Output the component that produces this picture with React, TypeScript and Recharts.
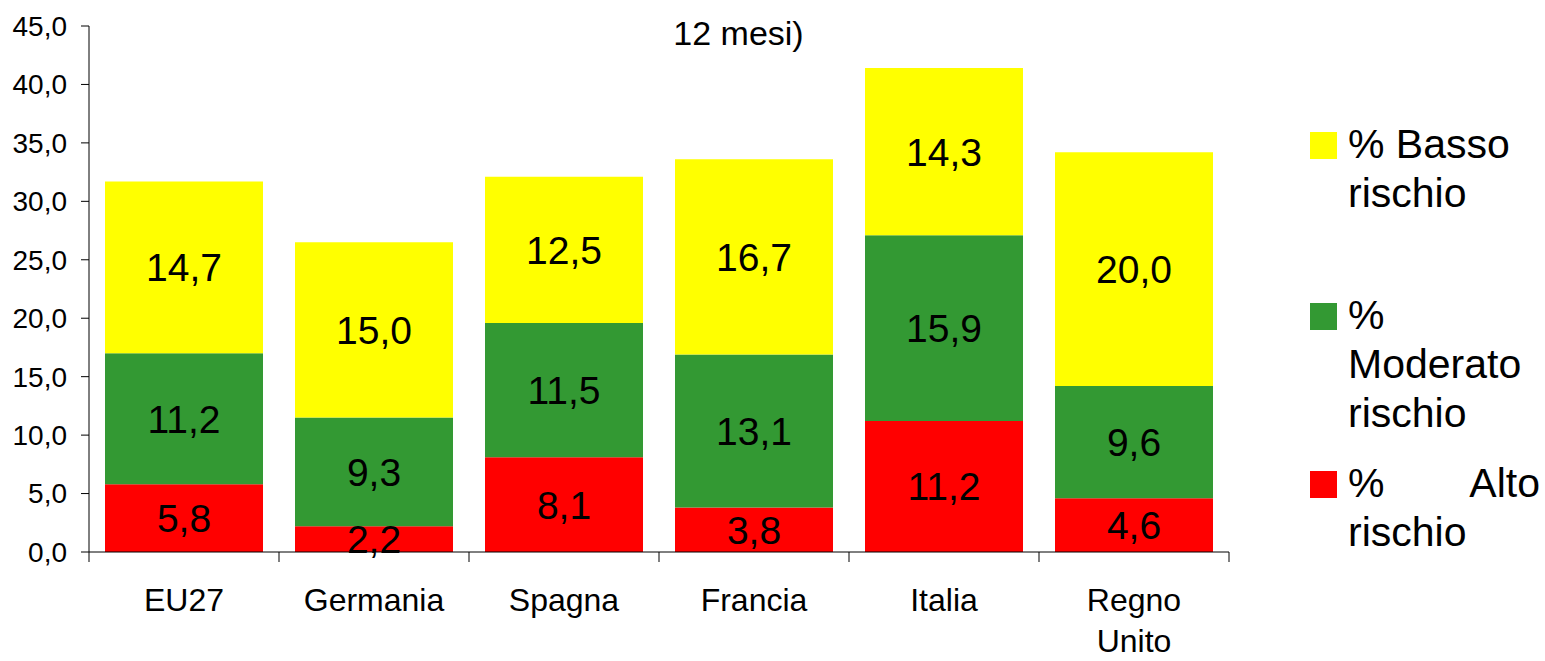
import React from "react";
import { Bar, BarChart, LabelList, Legend, XAxis, YAxis } from "recharts";

const FONT = '"Liberation Sans", Arial, sans-serif';

const paesi = ["EU27", "Germania", "Spagna", "Francia", "Italia", "Regno Unito"];
const alto = [5.8, 2.2, 8.1, 3.8, 11.2, 4.6];
const moderato = [11.2, 9.3, 11.5, 13.1, 15.9, 9.6];
const basso = [14.7, 15.0, 12.5, 16.7, 14.3, 20.0];
const yTicks = [0, 5, 10, 15, 20, 25, 30, 35, 40, 45];

const SERIES = [
  { key: "alto", name: "% Alto rischio", color: "#FF0000" },
  { key: "moderato", name: "% Moderato rischio", color: "#339933" },
  { key: "basso", name: "% Basso rischio", color: "#FFFF00" },
];

const data = paesi.map((p, i) => ({
  paese: p,
  alto: alto[i],
  moderato: moderato[i],
  basso: basso[i],
}));

const fmt = (v: number) => v.toFixed(1).replace(".", ",");

function CategoryTick(props: any) {
  const { x, y, payload, index, visibleTicksCount } = props;
  const half = payload.offset ?? 95;
  const lines = String(payload.value).split(" ");
  return (
    <g>
      <line x1={x - half} x2={x - half} y1={y} y2={y + 10} stroke="#000" />
      {index === visibleTicksCount - 1 && (
        <line x1={x + half} x2={x + half} y1={y} y2={y + 10} stroke="#000" />
      )}
      <text x={x} y={y + 59} textAnchor="middle" fontSize={32} fontFamily={FONT} fill="#000">
        {lines.map((l, i) => (
          <tspan key={l} x={x} dy={i === 0 ? 0 : 41}>
            {l}
          </tspan>
        ))}
      </text>
    </g>
  );
}

// legenda in stile Excel: voce in alto = ultima serie
const legendTops = [120, 291, 459];

function ExcelLegend() {
  const items = [...SERIES].reverse();
  return (
    <div style={{ position: "relative", width: 235, height: 661, fontFamily: FONT }}>
      {items.map((s, i) => (
        <div key={s.key} style={{ position: "absolute", left: 0, top: legendTops[i], display: "flex" }}>
          <div
            style={{
              width: 27,
              height: 27,
              background: s.color,
              marginTop: 12,
              marginRight: 11,
              flex: "none",
            }}
          />
          <div
            style={{
              width: 192,
              fontSize: 41,
              lineHeight: "49px",
              color: "#000",
              textAlign: s.key === "alto" ? "justify" : "left",
            }}
          >
            {s.name}
          </div>
        </div>
      ))}
    </div>
  );
}

export default function App() {
  return (
    <div style={{ position: "absolute", left: 0, top: 0, width: 1545, height: 661, background: "#fff" }}>
      <div
        style={{
          position: "absolute",
          left: 0,
          width: 1477,
          top: 14,
          textAlign: "center",
          fontFamily: FONT,
          fontSize: 34,
          color: "#000",
        }}
      >
        12 mesi)
      </div>
      <BarChart
        width={1545}
        height={661}
        data={data}
        margin={{ top: 26, right: 316, left: 0, bottom: 9 }}
        barCategoryGap={16}
      >
        <XAxis
          dataKey="paese"
          height={100}
          axisLine={{ stroke: "#000" }}
          tickLine={false}
          tickSize={0}
          tickMargin={0}
          interval={0}
          tick={<CategoryTick />}
        />
        <YAxis
          width={89}
          domain={[0, 45]}
          ticks={yTicks}
          interval={0}
          tickFormatter={fmt}
          axisLine={{ stroke: "#000" }}
          tickLine={{ stroke: "#000" }}
          tickSize={8}
          tickMargin={14}
          tick={{ fontSize: 28, fill: "#000", fontFamily: FONT }}
        />
        <Legend
          layout="vertical"
          align="center"
          verticalAlign="middle"
          wrapperStyle={{ left: 1310, top: 0, width: 235, height: 661 }}
          content={() => <ExcelLegend />}
        />
        {SERIES.map((s) => (
          <Bar key={s.key} dataKey={s.key} name={s.name} stackId="a" fill={s.color} isAnimationActive={false}>
            <LabelList
              dataKey={s.key}
              position="center"
              formatter={(v: any) => fmt(Number(v))}
              style={{ fontSize: 39, fill: "#000", fontFamily: FONT }}
            />
          </Bar>
        ))}
      </BarChart>
    </div>
  );
}
